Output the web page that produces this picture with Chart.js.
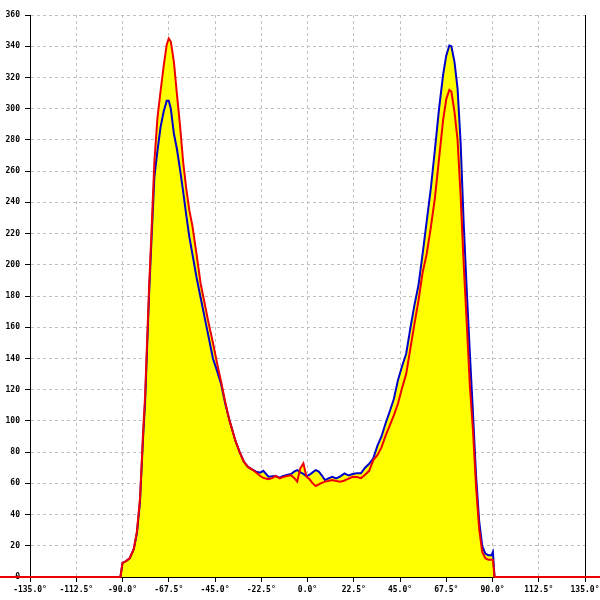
<!DOCTYPE html>
<html>
<head>
<meta charset="utf-8">
<script src="https://cdn.jsdelivr.net/npm/chart.js@4/dist/chart.umd.min.js"></script>
<style>
  html, body { margin: 0; padding: 0; background: #fff; }
</style>
</head>
<body>
<canvas id="chart" width="600" height="600"></canvas>
<script>
// angle samples (degrees), shared by both curves
const angles = [
  -150, -91, -90, -88.5, -86.5, -84.5, -83, -81.5, -80.7, -80, -79, -78, -77, -76,
  -74.5, -73, -71.5, -70, -68.5, -67.5, -66.5, -65, -63.5, -62, -60.5, -59, -57.5,
  -56, -54, -52, -50, -48, -46, -44, -42, -40, -38, -37, -35, -33, -31, -29, -27,
  -25, -23, -21.5, -19, -17, -15.5, -13.5, -12, -10, -8, -6.5, -5, -3.5, -2, -0.5,
  1, 2.5, 4, 5.5, 7, 8.5, 10, 12, 14, 16, 18, 20, 22, 24, 26, 28, 30, 32, 34, 36,
  38, 40, 42, 44, 46, 48, 50, 52, 54, 56, 58, 60, 62, 64, 66, 67.5, 69, 70, 71.5,
  73, 74.5, 76, 77.5, 79, 80.5, 82, 83.5, 85, 86.5, 88, 89.5, 90.2, 91, 150
];

const blueValues = [
  0, 0, 9, 10, 12, 18, 28, 48, 70, 89, 112, 148, 183, 213,
  256, 273, 288, 298, 305, 305, 300, 284, 274, 261, 247, 232, 218,
  207, 192, 179, 166, 153, 140, 132, 123.5, 111, 100.5, 96, 87, 80, 74, 70.5, 69,
  67.5, 66.8, 68, 64.2, 64.5, 64.7, 63.6, 64.5, 65.3, 66, 67.5, 68.5, 67, 66, 64.5,
  65.5, 67, 68.5, 67.5, 65, 62.1, 63, 64.2, 63.2, 64.5, 66.4, 65, 66, 66.4, 66.4, 70, 72.5, 76, 84, 90,
  98.5, 106, 114, 126, 135, 143, 159, 174, 187, 207, 228, 249, 274, 300, 322, 334, 340.5, 340, 330,
  313, 278, 226, 183, 143, 105, 65, 36, 20, 15, 14, 14, 16, 0, 0
];

const redValues = [
  0, 0, 9, 10, 12, 18, 29, 50, 72, 92, 116, 152, 188, 218,
  266, 294, 311, 327, 341, 345, 343, 330, 309, 289, 266, 249, 235,
  225, 207, 188, 175, 162, 150, 137, 125, 112, 100.5, 96, 87, 80, 74, 70.5, 69,
  67, 64.7, 63.5, 62.6, 63.5, 64.7, 63.2, 64, 64.7, 65.2, 63.5, 61.1, 69.6, 72.8, 64.2,
  62.6, 60, 58.3, 59.4, 60.3, 61.1, 61.5, 62.1, 61.5, 61.1, 61.8, 63, 64.2, 64, 63.3, 65.5, 68, 74.9, 78, 83,
  90.5, 97, 103.5, 111, 121, 130, 146, 162, 177, 195, 207, 224, 243, 268, 293, 306, 312, 311, 298,
  280, 244, 200, 162, 122, 94, 58, 31, 16, 12, 11, 11, 11, 0, 0
];

const xTickStep = 22.5;
const yTickStep = 20;

const tickFont = { family: 'DejaVu Sans Mono', size: 8, weight: 'bold' };

const toPoints = (values) => angles.map((a, i) => ({ x: a, y: values[i] }));

new Chart(document.getElementById('chart').getContext('2d'), {
  type: 'line',
  data: {
    datasets: [
      {
        label: 'red',
        data: toPoints(redValues),
        borderColor: '#ee0000',
        backgroundColor: '#ffff00',
        borderWidth: 2,
        fill: 'origin',
        pointRadius: 0,
        tension: 0,
        clip: false,
        order: 0
      },
      {
        label: 'blue',
        data: toPoints(blueValues),
        borderColor: '#0000cc',
        backgroundColor: '#ffff00',
        borderWidth: 2,
        fill: 'origin',
        pointRadius: 0,
        tension: 0,
        order: 1
      }
    ]
  },
  options: {
    responsive: false,
    animation: false,
    layout: { padding: { top: 15, left: 0, right: 0, bottom: 0 } },
    plugins: {
      legend: { display: false },
      tooltip: { enabled: false },
      filler: { drawTime: 'beforeDatasetsDraw' }
    },
    scales: {
      x: {
        type: 'linear',
        min: -135,
        max: 135,
        afterFit: (s) => { s.height = 23; s.paddingLeft = 0; s.paddingRight = 0; },
        ticks: {
          stepSize: xTickStep,
          autoSkip: false,
          maxRotation: 0,
          padding: 3,
          color: '#000',
          font: tickFont,
          callback: (v) => v.toFixed(1) + '°'
        },
        grid: { color: '#c0c0c0', tickColor: '#000', tickLength: 5, tickBorderDash: [] },
        border: { color: '#000', width: 1, dash: [3, 3] }
      },
      y: {
        min: 0,
        max: 360,
        afterFit: (s) => { s.width = 30; s.paddingTop = 0; s.paddingBottom = 0; },
        ticks: {
          stepSize: yTickStep,
          padding: 5,
          color: '#000',
          font: tickFont
        },
        grid: { color: '#c0c0c0', tickColor: '#000', tickLength: 5, tickBorderDash: [] },
        border: { color: '#000', width: 1, dash: [3, 3] }
      },
      y2: {
        position: 'right',
        min: 0,
        max: 360,
        afterFit: (s) => { s.width = 15; },
        ticks: { display: false },
        grid: { display: false, drawTicks: false },
        border: { color: '#000', width: 1 }
      }
    }
  }
});
</script>
</body>
</html>
